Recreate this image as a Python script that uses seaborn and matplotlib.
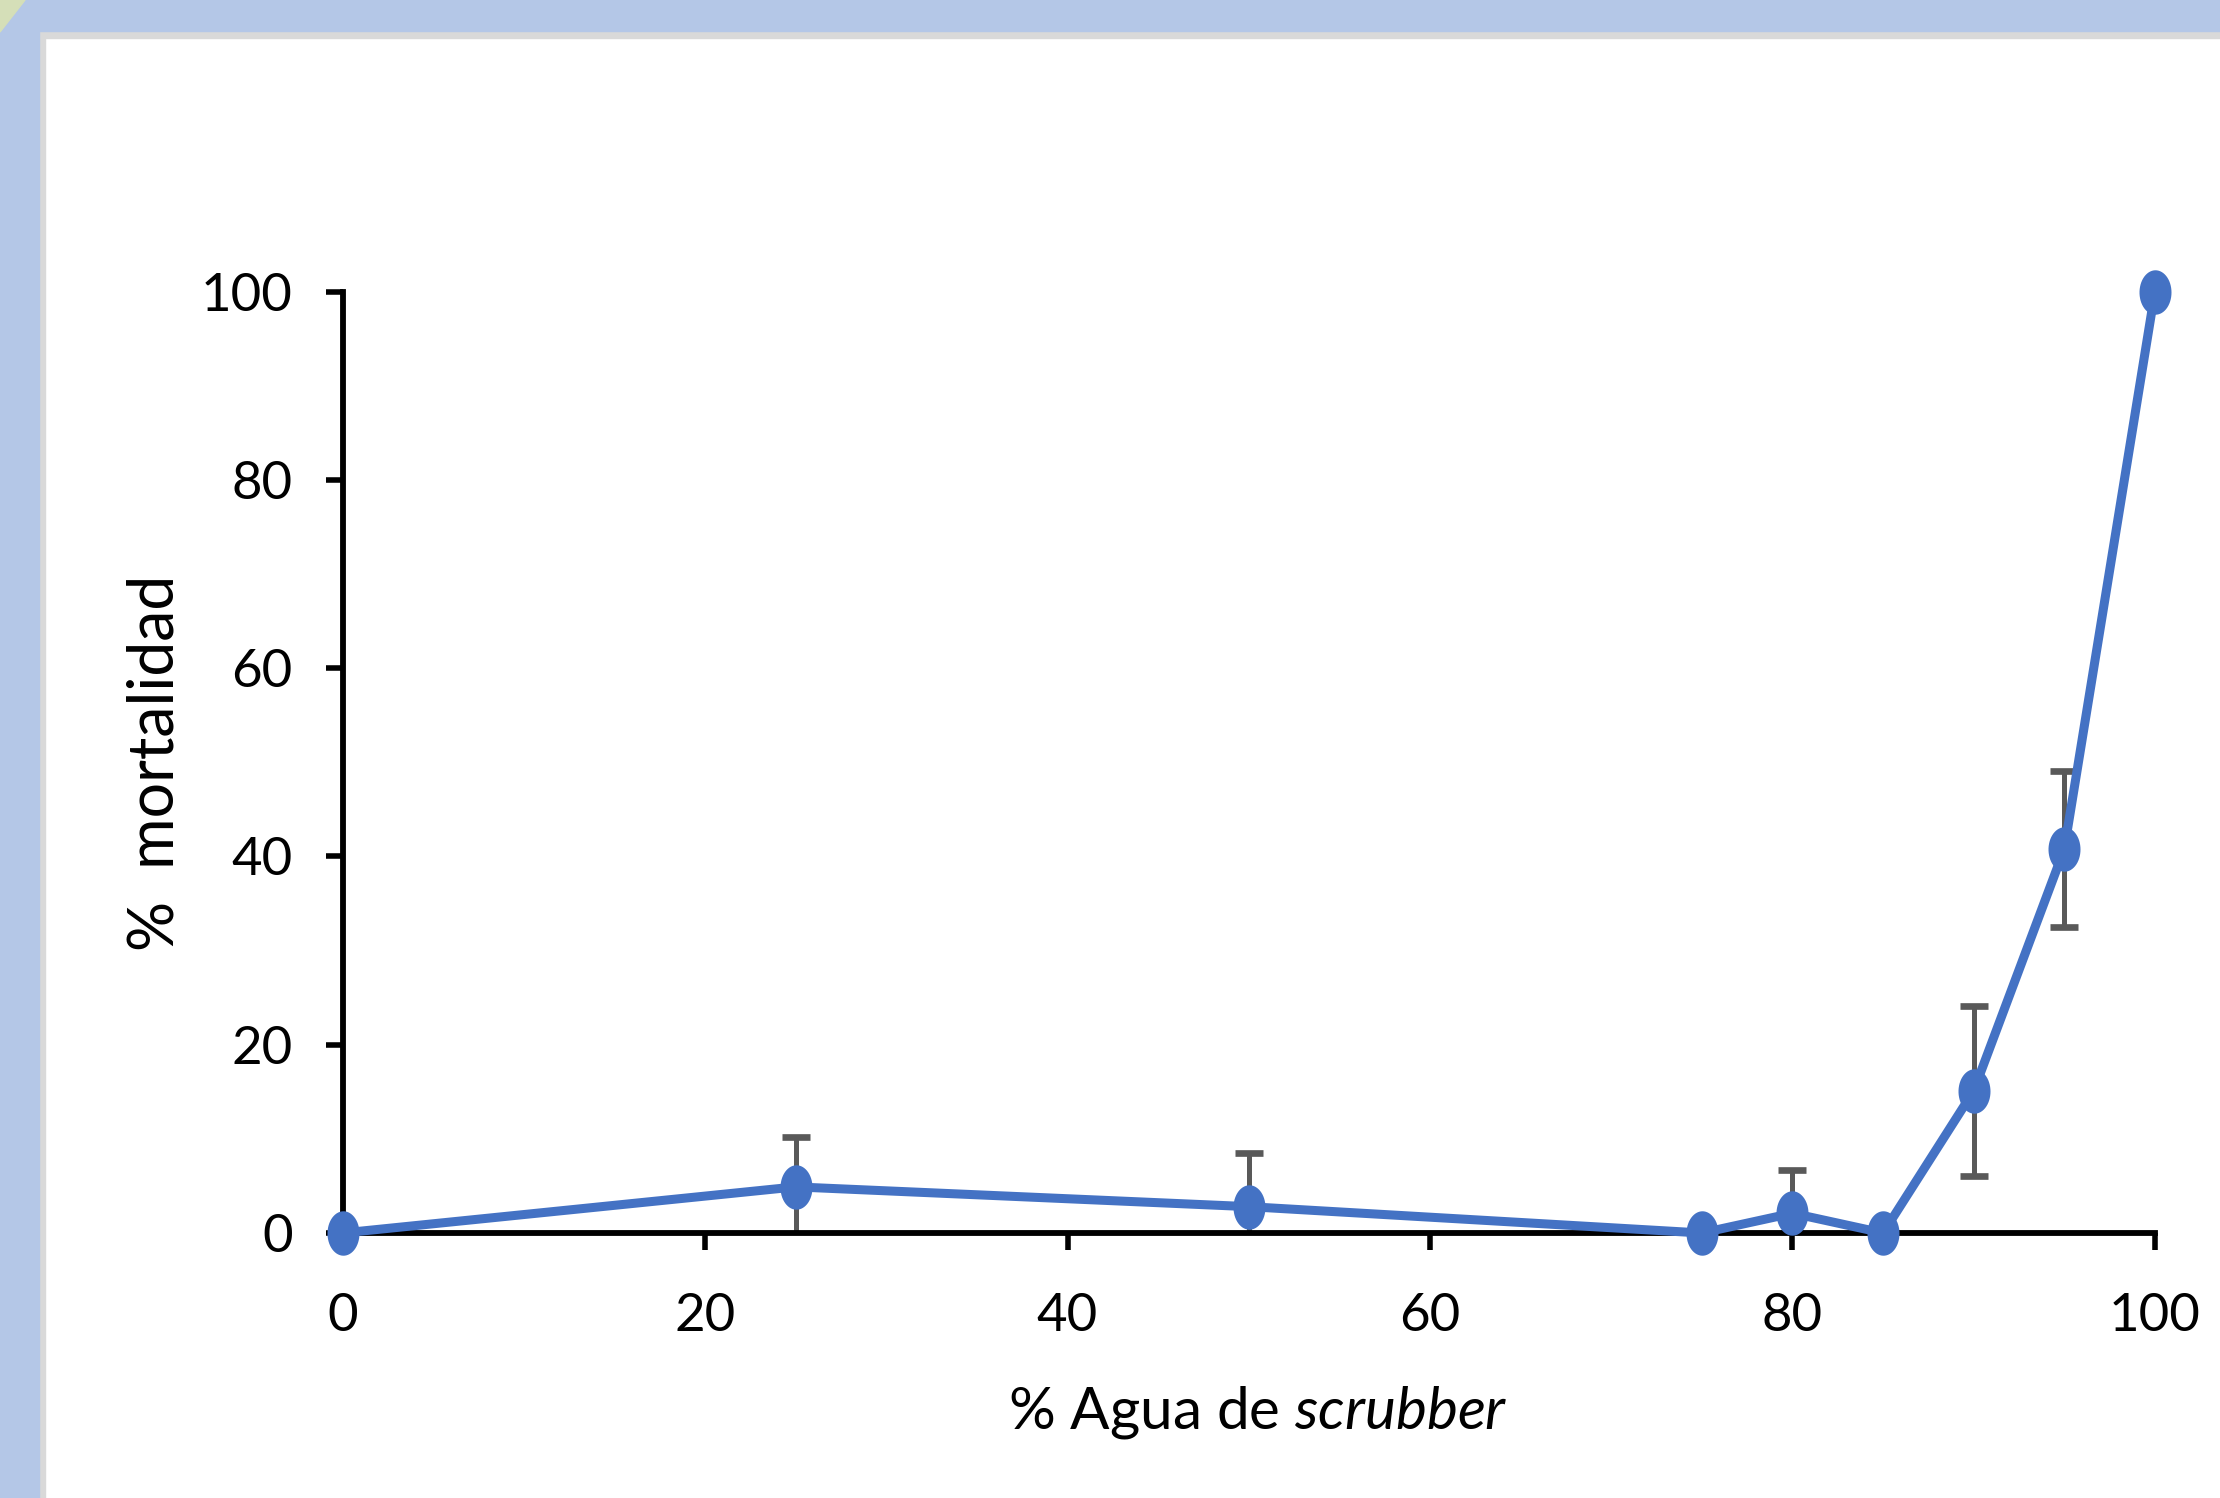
import numpy as np
import pandas as pd
import matplotlib
matplotlib.use("Agg")
import matplotlib.pyplot as plt
from matplotlib.path import Path
from matplotlib.patches import Rectangle, Polygon
import seaborn as sns

# data
pct_scrubber = [0, 25, 50, 75, 80, 85, 90, 95, 100]
mortality = [0, 4.9, 2.8, 0, 2.1, 0, 15.1, 40.8, 100]
mortality_sd = [0, 5.3, 5.7, 0, 4.6, 0, 9.0, 8.3, 0]
x_ticks = [0, 20, 40, 60, 80, 100]
y_ticks = [0, 20, 40, 60, 80, 100]

df = pd.DataFrame({"x": pct_scrubber, "y": mortality, "sd": mortality_sd})

sns.set_theme(style="white")
plt.rcParams["font.family"] = ["Lato", "DejaVu Sans"]
plt.rcParams["mathtext.fontset"] = "custom"
plt.rcParams["mathtext.rm"] = "Lato"
plt.rcParams["mathtext.it"] = "Lato:italic"

fig = plt.figure(figsize=(22.2, 14.98), dpi=100, facecolor="white")
ax = fig.add_axes([0.1543, 0.1769, 0.8164, 0.6284])

# slide frame around the chart
W, H = 2220, 1498
fig.patches.append(Rectangle((0, 0), 45 / W, 1, transform=fig.transFigure, color="#D9D9D9", zorder=0))
fig.patches.append(Rectangle((0, 1 - 37.7 / H), 1, 37.7 / H, transform=fig.transFigure, color="#D9D9D9", zorder=0))
fig.patches.append(Rectangle((0, 0), 39 / W, 1, transform=fig.transFigure, color="#B4C7E7", zorder=1))
fig.patches.append(Rectangle((0, 1 - 31 / H), 1, 31 / H, transform=fig.transFigure, color="#B4C7E7", zorder=1))
fig.patches.append(Polygon([(0, 1), (25 / W, 1), (0, 1 - 32 / H)], closed=True,
                           transform=fig.transFigure, color="#D5DFB8", zorder=2))

# error bars under the line
ax.errorbar(df["x"], df["y"], yerr=df["sd"], fmt="none", ecolor="#595959",
            elinewidth=3.6, capsize=10, capthick=4.8, zorder=2)

# slightly tall elliptical marker like the original
t = np.linspace(0, 2 * np.pi, 60)
ellipse = Path(np.column_stack([0.72 * np.cos(t), np.sin(t)]))

sns.lineplot(data=df, x="x", y="y", ax=ax, color="#4472C4", linewidth=6.5,
             marker=ellipse, markersize=32, markeredgewidth=0,
             clip_on=False, zorder=3)

ax.set_xlim(0, 100)
ax.set_ylim(0, 100)
ax.set_xticks(x_ticks)
ax.set_yticks(y_ticks)
ax.set_xticklabels([str(v) for v in x_ticks])
ax.set_yticklabels([str(v) for v in y_ticks])

for side in ["top", "right"]:
    ax.spines[side].set_visible(False)
for side in ["left", "bottom"]:
    ax.spines[side].set_color("black")
    ax.spines[side].set_linewidth(4.2)

ax.tick_params(axis="both", direction="out", length=12, width=4, color="black",
               labelsize=38, labelcolor="black")
ax.tick_params(axis="x", pad=31, bottom=True)
ax.tick_params(axis="y", pad=24, left=True)

ax.set_xlabel("% Agua de $\\mathit{scrubber}$", fontsize=42, color="black", va="center")
ax.set_ylabel("%  mortalidad", fontsize=45, color="black", va="center")
ax.xaxis.set_label_coords(0.505, -0.191)
ax.yaxis.set_label_coords(-0.103, 0.499)

fig.savefig("out.png", dpi=100, facecolor="white")
